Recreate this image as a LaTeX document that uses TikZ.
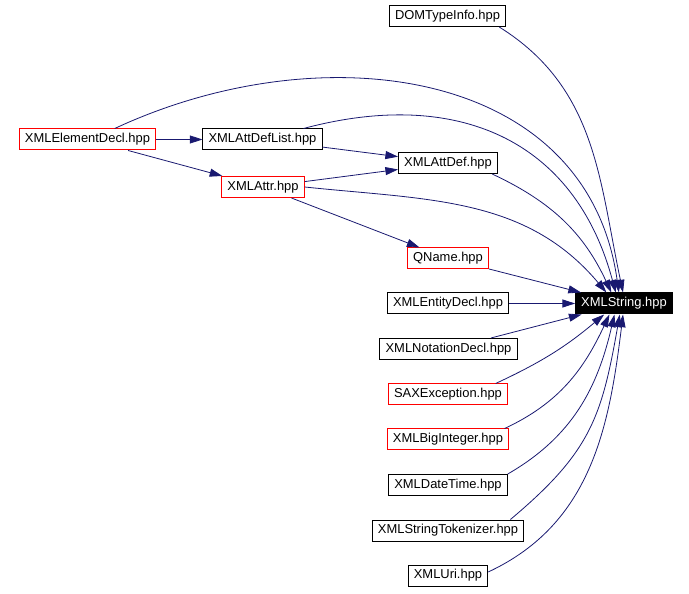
\documentclass[tikz,border=0pt]{standalone}
\usepackage{fontspec}
\setmainfont{Liberation Sans}
\usetikzlibrary{arrows.meta}
\definecolor{edgeblue}{HTML}{191970}

\begin{document}
\begin{tikzpicture}[x=0.75pt,y=0.75pt,>={Triangle[length=9.5pt,width=6pt]},
    every node/.style={font=\fontsize{9.7}{11}\selectfont},
    file/.style={draw=black,line width=0.75pt,inner xsep=4.2pt,inner ysep=0pt,minimum height=15.75pt},
    redfile/.style={file,draw=red},
    dep/.style={->,color=edgeblue,line width=0.6pt}]
    \useasboundingbox (0,0) rectangle (689,593);
    % left part
    \node[redfile] (elem) at (87.5,453.5) {XMLElementDecl.hpp};
    \node[file] (adl) at (262.5,453.5) {XMLAttDefList.hpp};
    \node[redfile] (attr) at (263,406) {XMLAttr.hpp};
    % middle column
    \node[file] (dom) at (447.5,577) {DOMTypeInfo.hpp};
    \node[file] (ad) at (448,430) {XMLAttDef.hpp};
    \node[redfile] (qn) at (448,334.5) {QName.hpp};
    \node[file] (ent) at (448,289.5) {XMLEntityDecl.hpp};
    \node[file] (nota) at (448.5,244) {XMLNotationDecl.hpp};
    \node[redfile] (sax) at (448,198.5) {SAXException.hpp};
    \node[redfile] (bigint) at (448,153.5) {XMLBigInteger.hpp};
    \node[file] (dt) at (448,108) {XMLDateTime.hpp};
    \node[file] (tok) at (448,62.5) {XMLStringTokenizer.hpp};
    \node[file] (uri) at (448,17.5) {XMLUri.hpp};
    % target
    \node[file,fill=black,text=white] (str) at (624,289.5) {XMLString.hpp};
    \path[dep]
      (elem) edge (adl)
      (elem) edge (attr)
      (adl) edge (ad)
      (attr) edge (ad)
      (attr) edge (qn)
      (qn) edge (str)
      (ent) edge (str)
      (nota) edge (str)
      (dom.-12) edge[out=-32,in=102] (str.95)
      (elem.22) edge[out=25,in=98,looseness=1.1] (str.115)
      (adl.15) edge[out=15,in=105,looseness=1.15] (str.127)
      (ad.-14) edge[out=-25,in=115] (str.139)
      (attr.east) edge[out=-6,in=130] (str.148)
      (sax.13) edge[out=25,in=-140] (str.-151)
      (bigint.11) edge[out=25,in=-115] (str.-143)
      (dt.north east) edge[out=30,in=-103] (str.-131)
      (tok.10) edge[out=40,in=-100,looseness=1.15] (str.-111)
      (uri.5) edge[out=25,in=-97] (str.-95);
\end{tikzpicture}
\end{document}
